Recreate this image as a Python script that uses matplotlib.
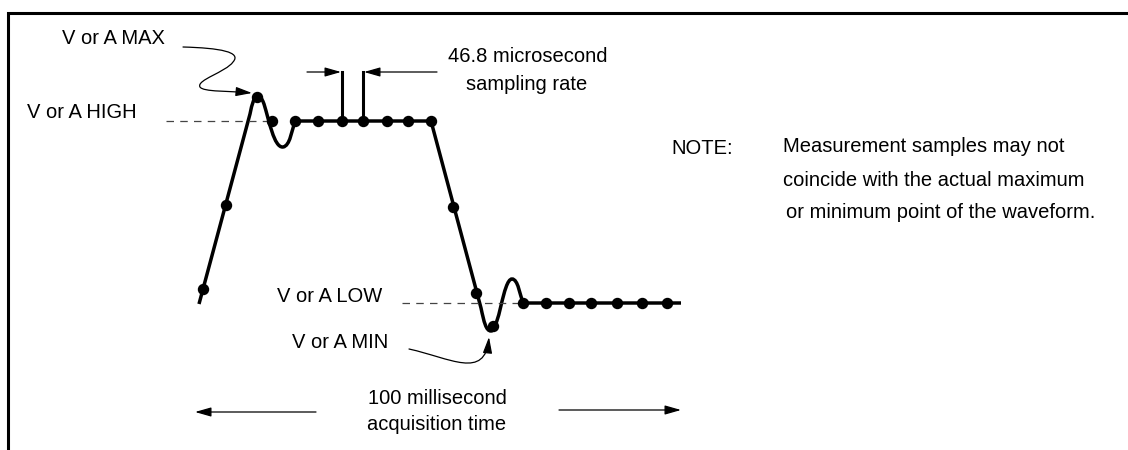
import matplotlib.pyplot as plt
from matplotlib.path import Path
from matplotlib.patches import FancyArrowPatch, PathPatch

plt.rcParams["font.family"] = ["Liberation Sans", "DejaVu Sans"]

# drawing is laid out in pixel units of the 1128x450 canvas (y grows downward)
HIGH_LEVEL = 121
LOW_LEVEL = 303

# measurement samples taken along the waveform
sample_x = [203, 226, 257, 272, 295, 318, 342, 363, 387, 408, 431,
            453, 476, 493, 523, 546, 569, 591, 617, 642, 667]
sample_y = [289, 205, 97, 121, 121, 121, 121, 121, 121, 121, 121,
            207, 293, 326, 303, 303, 303, 303, 303, 303, 303]

# waveform outline: (code, points) - ringing drawn as bezier segments
wave_segments = [
    ("M", [(199, 304)]),
    ("L", [(250, 114)]),
    ("Q", [(256, 82), (264, 104)]),
    ("C", [(269, 120), (274, 148), (283, 147)]),
    ("C", [(290, 146), (292, 130), (295, 121)]),
    ("L", [(431, 121)]),
    ("L", [(481, 308)]),
    ("C", [(484, 322), (486, 331), (491, 331)]),
    ("C", [(499, 331), (503, 279), (512, 279)]),
    ("C", [(518, 279), (520, 295), (523, 303)]),
    ("L", [(681, 303)]),
]

max_pointer = [(183, 47), (220, 48), (242, 52), (233, 62),
               (226, 72), (196, 80), (200, 87),
               (203, 92), (230, 91), (252, 93)]
min_pointer = [(409, 349), (450, 358), (485, 380), (489, 337)]

labels = [
    ("V or A MAX", 62, 38, "left"),
    ("V or A HIGH", 27, 112, "left"),
    ("46.8 microsecond", 528, 57, "center"),
    ("sampling rate", 527, 85, "center"),
    ("V or A LOW", 277, 296, "left"),
    ("V or A MIN", 292, 343, "left"),
    ("100 millisecond", 437, 398, "center"),
    ("acquisition time", 437, 425, "center"),
    ("NOTE:", 671, 148, "left"),
    ("Measurement samples may not", 783, 147, "left"),
    ("coincide with the actual maximum", 783, 180, "left"),
    ("or minimum point of the waveform.", 786, 213, "left"),
]

CODES = {"M": [Path.MOVETO], "L": [Path.LINETO],
         "Q": [Path.CURVE3] * 2, "C": [Path.CURVE4] * 3}


def bezier(points):
    return Path(points, [Path.MOVETO] + [Path.CURVE4] * (len(points) - 1))


def main() -> None:
    fig = plt.figure(figsize=(11.28, 4.5), dpi=100)
    ax = fig.add_axes([0, 0, 1, 1])
    ax.set_xlim(0, 1128)
    ax.set_ylim(450, 0)
    ax.axis("off")

    # frame
    ax.plot([8, 8, 1128], [450, 13, 13], color="black", lw=2.2,
            solid_joinstyle="miter")

    # reference levels
    ax.plot([166, 272], [HIGH_LEVEL, HIGH_LEVEL], color="#444", lw=0.9,
            dashes=(6, 5))
    ax.plot([402, 523], [LOW_LEVEL, LOW_LEVEL], color="#444", lw=0.9,
            dashes=(6, 5))

    # waveform
    verts, codes = [], []
    for code, pts in wave_segments:
        verts += pts
        codes += CODES[code]
    ax.add_patch(PathPatch(Path(verts, codes), facecolor="none",
                           edgecolor="black", lw=2.5, capstyle="butt"))
    ax.plot(sample_x, sample_y, "o", color="black", ms=7.2, zorder=3)

    # sampling interval marker
    for x in (342, 363):
        ax.plot([x, x], [HIGH_LEVEL, 72], color="black", lw=2.2)
    arrow = dict(arrowstyle="-|>,head_length=0.7,head_width=0.2",
                 color="black", lw=0.9, mutation_scale=14,
                 shrinkA=0, shrinkB=0)
    ax.annotate("", xy=(341, 72), xytext=(307, 72), arrowprops=arrow)
    ax.annotate("", xy=(364, 72), xytext=(437, 72), arrowprops=arrow)

    # pointers to max / min
    for pts in (max_pointer, min_pointer):
        ax.add_patch(FancyArrowPatch(path=bezier(pts),
                                     arrowstyle="-|>,head_length=0.7,head_width=0.2",
                                     mutation_scale=14, color="black", lw=0.9))

    # acquisition time span
    ax.annotate("", xy=(195, 412), xytext=(316, 412), arrowprops=arrow)
    ax.annotate("", xy=(681, 410), xytext=(559, 410), arrowprops=arrow)

    for text, x, y, ha in labels:
        ax.text(x, y, text, ha=ha, va="center", fontsize=14.5, color="black")

    fig.savefig("out.png", dpi=100)


if __name__ == "__main__":
    main()
